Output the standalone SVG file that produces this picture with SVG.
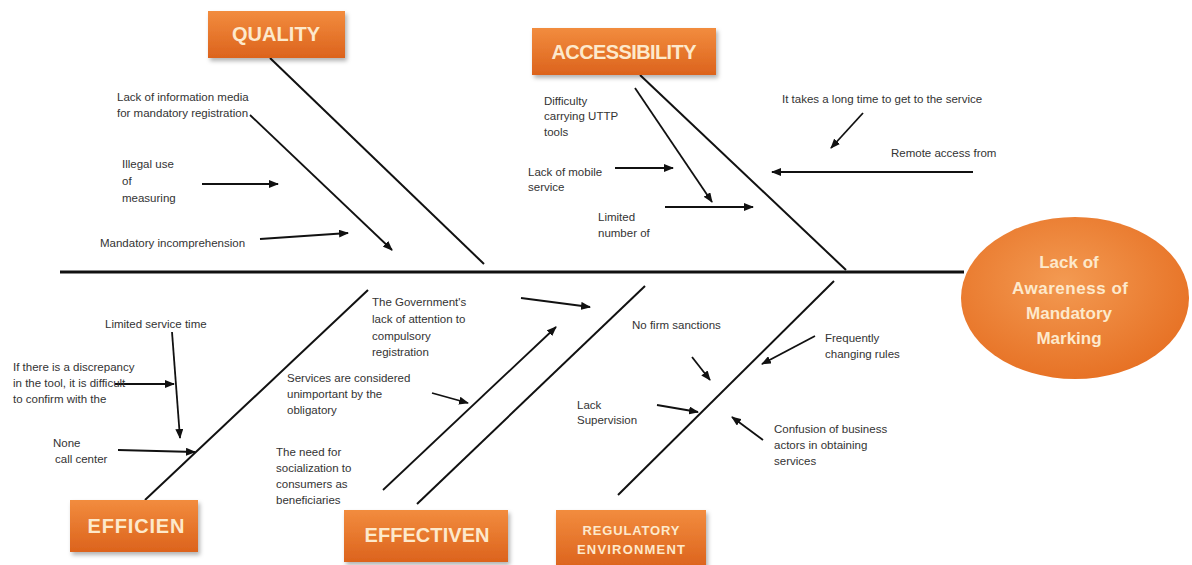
<svg xmlns="http://www.w3.org/2000/svg" width="1192" height="565" viewBox="0 0 1192 565">
<defs>
<linearGradient id="boxg" x1="0" y1="0" x2="0" y2="1">
<stop offset="0" stop-color="#f28c3e"/>
<stop offset="1" stop-color="#dc631d"/>
</linearGradient>
<radialGradient id="ellg" cx="0.45" cy="0.4" r="0.65">
<stop offset="0" stop-color="#f39a52"/>
<stop offset="1" stop-color="#e66f22"/>
</radialGradient>
<filter id="sh" x="-10%" y="-10%" width="125%" height="135%">
<feDropShadow dx="2" dy="3" stdDeviation="2" flood-color="#000" flood-opacity="0.3"/>
</filter>
<marker id="ah" viewBox="0 0 10 8" refX="9" refY="4" markerWidth="10" markerHeight="8" markerUnits="userSpaceOnUse" orient="auto">
<path d="M0,0 L10,4 L0,8 Z" fill="#111"/>
</marker>
</defs>
<style>
.bone{stroke:#111;stroke-width:2;fill:none}
.spine{stroke:#111;stroke-width:3;fill:none}
.arr{stroke:#111;stroke-width:1.8;fill:none;marker-end:url(#ah)}
.lbl{font-family:"Liberation Sans",Arial,sans-serif;font-size:11.5px;fill:#333}
.box{fill:url(#boxg);filter:url(#sh)}
.ttl{font-family:"Liberation Sans",Arial,sans-serif;font-weight:bold;fill:#fde9cc;text-anchor:middle}
</style>
<rect width="1192" height="565" fill="#fff"/>

<g id="connectors">
<line class="spine" x1="60" y1="272" x2="964" y2="272"/>
<line class="bone" x1="270" y1="58" x2="484" y2="264"/>
<line class="bone" x1="640" y1="75" x2="846" y2="270"/>
<line class="bone" x1="368" y1="290" x2="145" y2="500"/>
<line class="arr" x1="383" y1="490" x2="556" y2="327"/>
<line class="bone" x1="417" y1="504" x2="645" y2="286"/>
<line class="bone" x1="618" y1="495" x2="834" y2="281"/>
<line class="arr" x1="250" y1="115" x2="392" y2="250"/>
<line class="arr" x1="202" y1="184" x2="278" y2="184"/>
<line class="arr" x1="260" y1="239" x2="348" y2="233"/>
<line class="arr" x1="635" y1="88" x2="712" y2="202"/>
<line class="arr" x1="615" y1="168" x2="673" y2="168"/>
<line class="arr" x1="665" y1="207" x2="753" y2="207"/>
<line class="arr" x1="863" y1="113" x2="831" y2="148"/>
<line class="arr" x1="973" y1="172" x2="772" y2="172"/>
<line class="arr" x1="172" y1="332" x2="180" y2="438"/>
<line class="arr" x1="115" y1="384" x2="174" y2="384"/>
<line class="arr" x1="118" y1="450" x2="195" y2="452"/>
<line class="arr" x1="521" y1="298" x2="590" y2="307"/>
<line class="arr" x1="432" y1="393" x2="468" y2="403"/>
<line class="arr" x1="692" y1="357" x2="710" y2="380"/>
<line class="arr" x1="657" y1="405" x2="698" y2="412"/>
<line class="arr" x1="815" y1="336" x2="762" y2="364"/>
<line class="arr" x1="763" y1="440" x2="732" y2="417"/>
</g>

<g id="head">
<ellipse cx="1075" cy="298" rx="114" ry="81" fill="url(#ellg)"/>
<text class="ttl" font-size="17" x="1069" y="268">Lack of</text>
<text class="ttl" font-size="17" x="1070" y="294" textLength="116">Awareness of</text>
<text class="ttl" font-size="17" x="1069" y="319">Mandatory</text>
<text class="ttl" font-size="17" x="1069" y="344">Marking</text>
</g>

<g id="quality">
<rect class="box" x="208" y="11" width="137" height="47"/>
<text class="ttl" font-size="20" x="276" y="41" textLength="88">QUALITY</text>
</g>
<g id="accessibility">
<rect class="box" x="532" y="28" width="184" height="47"/>
<text class="ttl" font-size="20" x="624" y="59" textLength="145">ACCESSIBILITY</text>
</g>
<g id="efficien">
<rect class="box" x="70" y="500" width="128" height="52"/>
<text class="ttl" font-size="20" x="136" y="533" textLength="97">EFFICIEN</text>
</g>
<g id="effectiven">
<rect class="box" x="344" y="510" width="164" height="52"/>
<text class="ttl" font-size="20" x="427" y="542" textLength="125">EFFECTIVEN</text>
</g>
<g id="regulatory">
<rect class="box" x="556" y="510" width="150" height="58"/>
<text class="ttl" font-size="13" x="631" y="535" textLength="97">REGULATORY</text>
<text class="ttl" font-size="13" x="631" y="554" textLength="108">ENVIRONMENT</text>
</g>

<g id="quality-causes">
<text class="lbl" x="117" y="101">Lack of information media</text>
<text class="lbl" x="117" y="117">for mandatory registration</text>
<text class="lbl" x="122" y="168">Illegal use</text>
<text class="lbl" x="122" y="185">of</text>
<text class="lbl" x="122" y="202">measuring</text>
<text class="lbl" x="100" y="247">Mandatory incomprehension</text>
</g>
<g id="accessibility-causes">
<text class="lbl" x="544" y="105">Difficulty</text>
<text class="lbl" x="544" y="120">carrying UTTP</text>
<text class="lbl" x="544" y="136">tools</text>
<text class="lbl" x="528" y="176">Lack of mobile</text>
<text class="lbl" x="528" y="191">service</text>
<text class="lbl" x="598" y="221">Limited</text>
<text class="lbl" x="598" y="237">number of</text>
<text class="lbl" x="782" y="103">It takes a long time to get to the service</text>
<text class="lbl" x="891" y="157">Remote access from</text>
</g>
<g id="efficien-causes">
<text class="lbl" x="105" y="328">Limited service time</text>
<text class="lbl" x="13" y="371">If there is a discrepancy</text>
<text class="lbl" x="13" y="387">in the tool, it is difficult</text>
<text class="lbl" x="13" y="403">to confirm with the</text>
<text class="lbl" x="53" y="447">None</text>
<text class="lbl" x="55" y="463">call center</text>
</g>
<g id="effectiven-causes">
<text class="lbl" x="372" y="306">The Government's</text>
<text class="lbl" x="372" y="323">lack of attention to</text>
<text class="lbl" x="372" y="340">compulsory</text>
<text class="lbl" x="372" y="356">registration</text>
<text class="lbl" x="287" y="382">Services are considered</text>
<text class="lbl" x="287" y="398">unimportant by the</text>
<text class="lbl" x="287" y="414">obligatory</text>
<text class="lbl" x="276" y="456">The need for</text>
<text class="lbl" x="276" y="472">socialization to</text>
<text class="lbl" x="276" y="488">consumers as</text>
<text class="lbl" x="276" y="504">beneficiaries</text>
</g>
<g id="regulatory-causes">
<text class="lbl" x="632" y="329">No firm sanctions</text>
<text class="lbl" x="577" y="409">Lack</text>
<text class="lbl" x="577" y="424">Supervision</text>
<text class="lbl" x="825" y="342">Frequently</text>
<text class="lbl" x="825" y="358">changing rules</text>
<text class="lbl" x="774" y="433">Confusion of business</text>
<text class="lbl" x="774" y="449">actors in obtaining</text>
<text class="lbl" x="774" y="465">services</text>
</g>
</svg>
